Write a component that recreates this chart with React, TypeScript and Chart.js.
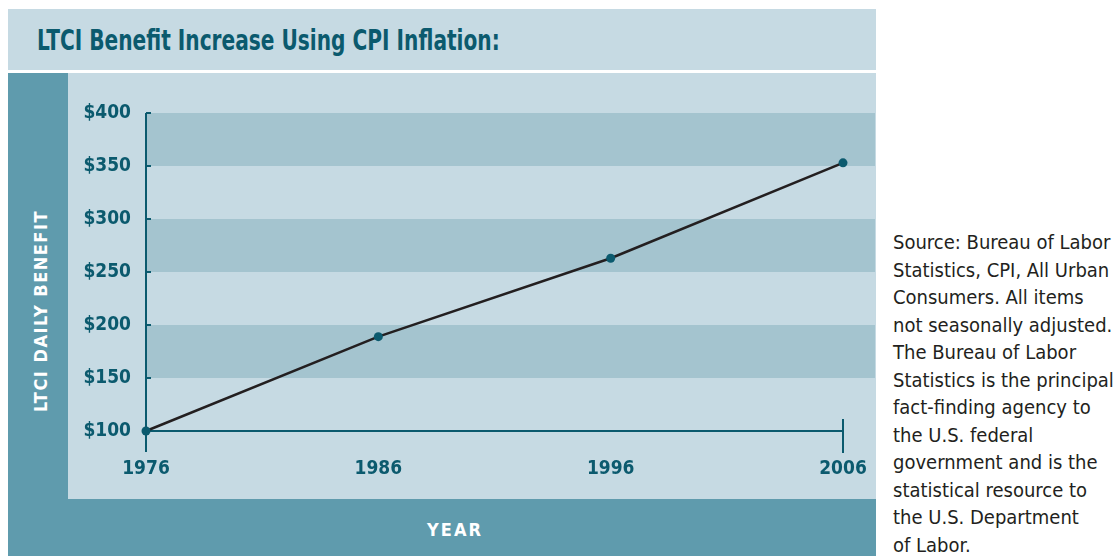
import React, { useEffect, useRef } from "react";
import { Chart, registerables } from "chart.js";

Chart.register(...registerables);

const years = ["1976", "1986", "1996", "2006"];
const benefit = [100, 189, 263, 353];
const yMin = 100;
const yMax = 400;
const yStep = 50;
const stripeBands = [
  [350, 400],
  [250, 300],
  [150, 200],
];
const titleText = "LTCI Benefit Increase Using CPI Inflation:";
const yTitle = "LTCI DAILY BENEFIT";
const xTitle = "YEAR";
const sourceLines = [
  "Source: Bureau of Labor",
  "Statistics, CPI, All Urban",
  "Consumers. All items",
  "not seasonally adjusted.",
  "The Bureau of Labor",
  "Statistics is the principal",
  "fact-finding agency to",
  "the U.S. federal",
  "government and is the",
  "statistical resource to",
  "the U.S. Department",
  "of Labor.",
];

const TEAL = "#0b5a6e";
const LIGHT = "#c6dae3";
const STRIPE = "#a4c4cf";
const BAND = "#5f9bad";
const FONT = "'DejaVu Sans Condensed', 'DejaVu Sans', sans-serif";

const decorPlugin = {
  id: "decor",
  beforeDatasetsDraw(chart: any) {
    const { ctx, chartArea, scales } = chart;
    const x = scales.x;
    const y = scales.y;
    ctx.save();
    ctx.fillStyle = STRIPE;
    const right = chart.width - 1;
    stripeBands.forEach(([lo, hi]) => {
      const top = y.getPixelForValue(hi);
      const bot = y.getPixelForValue(lo);
      ctx.fillRect(chartArea.left, top, right - chartArea.left, bot - top);
    });
    ctx.strokeStyle = TEAL;
    ctx.lineWidth = 2;
    // y axis
    ctx.beginPath();
    ctx.moveTo(chartArea.left, chartArea.top);
    ctx.lineTo(chartArea.left, chartArea.bottom + 21);
    ctx.stroke();
    // y tick stubs
    for (let v = yMin + yStep; v <= yMax; v += yStep) {
      const py = y.getPixelForValue(v);
      ctx.beginPath();
      ctx.moveTo(chartArea.left, py);
      ctx.lineTo(chartArea.left + 5, py);
      ctx.stroke();
    }
    // x axis
    const xEnd = x.getPixelForValue(years.length - 1);
    ctx.beginPath();
    ctx.moveTo(chartArea.left, chartArea.bottom);
    ctx.lineTo(xEnd, chartArea.bottom);
    ctx.stroke();
    ctx.beginPath();
    ctx.moveTo(xEnd, chartArea.bottom - 12);
    ctx.lineTo(xEnd, chartArea.bottom + 22);
    ctx.stroke();
    ctx.restore();
  },
};

function LineChart() {
  const ref = useRef<HTMLCanvasElement>(null);
  useEffect(() => {
    if (!ref.current) return;
    const chart = new Chart(ref.current, {
      type: "line",
      data: {
        labels: years,
        datasets: [
          {
            data: benefit,
            borderColor: "#231f20",
            borderWidth: 2.5,
            pointRadius: 4.5,
            pointBackgroundColor: TEAL,
            pointBorderWidth: 0,
            tension: 0,
            clip: false as any,
          },
        ],
      },
      options: {
        responsive: false,
        animation: false,
        layout: { padding: { top: 40, right: 33, left: 0, bottom: 0 } },
        plugins: {
          legend: { display: false },
          tooltip: { enabled: false },
          title: { display: false },
        },
        scales: {
          x: {
            type: "category",
            offset: false,
            grid: { display: false, drawTicks: false },
            border: { display: false },
            ticks: {
              padding: 27,
              color: TEAL,
              font: { family: FONT, size: 19, weight: "bold" },
              maxRotation: 0,
            },
            afterFit(scale: any) {
              scale.height = 68;
              scale.paddingLeft = 0;
              scale.paddingRight = 0;
            },
          },
          y: {
            min: yMin,
            max: yMax,
            grid: { display: false, drawTicks: false },
            border: { display: false },
            ticks: {
              stepSize: yStep,
              padding: 15,
              color: TEAL,
              font: { family: FONT, size: 19, weight: "bold" },
              callback: (v: any) => "$" + v,
            },
            afterFit(scale: any) {
              scale.width = 78;
              scale.paddingTop = 0;
              scale.paddingBottom = 0;
            },
          },
        },
      },
      plugins: [decorPlugin],
    });
    return () => chart.destroy();
  }, []);
  return <canvas ref={ref} width={808} height={426} style={{ display: "block" }} />;
}

export default function App() {
  const abs = (s: React.CSSProperties): React.CSSProperties => ({ position: "absolute", ...s });
  return (
    <div style={{ position: "fixed", left: 0, top: 0, width: 1118, height: 556, background: "#fff", overflow: "hidden", fontFamily: FONT }}>
      <div style={abs({ left: 8, top: 9, width: 868, height: 61, background: LIGHT })} />
      <div
        style={abs({
          left: 37,
          top: 27,
          height: 28,
          lineHeight: "28px",
          fontSize: 28,
          fontWeight: "bold",
          color: TEAL,
          whiteSpace: "nowrap",
          transform: "scaleX(0.8)",
          transformOrigin: "0 0",
        })}
      >
        {titleText}
      </div>
      <div style={abs({ left: 8, top: 73, width: 868, height: 483, background: LIGHT })} />
      <div style={abs({ left: 8, top: 73, width: 60, height: 483, background: BAND })} />
      <div style={abs({ left: 8, top: 499, width: 868, height: 57, background: BAND })} />
      <div style={abs({ left: 68, top: 73, width: 808, height: 426 })}>
        <LineChart />
      </div>
      <div
        style={abs({
          left: 40,
          top: 311,
          width: 300,
          textAlign: "center",
          transform: "translate(-50%, -50%) rotate(-90deg)",
          color: "#fff",
          fontWeight: "bold",
          fontSize: 18,
          letterSpacing: 1.5,
          whiteSpace: "nowrap",
        })}
      >
        {yTitle}
      </div>
      <div
        style={abs({
          left: 455,
          top: 529,
          transform: "translate(-50%, -50%)",
          color: "#fff",
          fontWeight: "bold",
          fontSize: 18,
          letterSpacing: 2,
          whiteSpace: "nowrap",
        })}
      >
        {xTitle}
      </div>
      <div
        style={abs({
          left: 893,
          top: 229,
          fontSize: 20,
          lineHeight: "27.5px",
          color: "#231f20",
          whiteSpace: "nowrap",
        })}
      >
        {sourceLines.map((l, i) => (
          <div key={i}>{l}</div>
        ))}
      </div>
    </div>
  );
}
